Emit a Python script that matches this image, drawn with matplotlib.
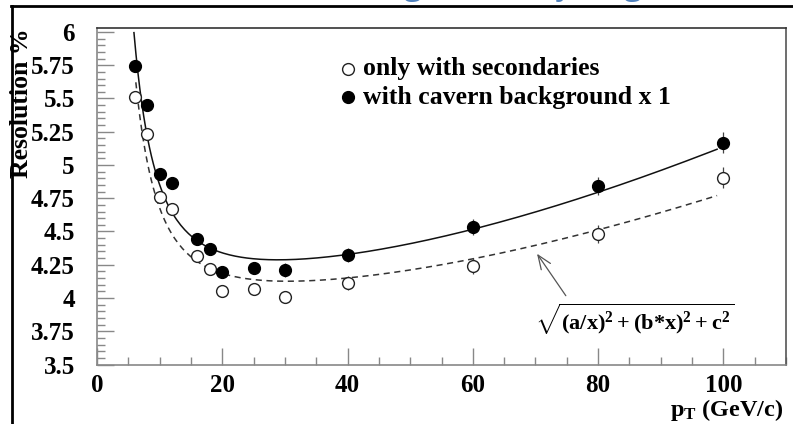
import numpy as np
import matplotlib
matplotlib.use("Agg")
import matplotlib.pyplot as plt
from matplotlib.lines import Line2D
from matplotlib.ticker import MultipleLocator, FormatStrFormatter

plt.rcParams['font.family'] = ['Liberation Serif', 'DejaVu Serif']
plt.rcParams['font.weight'] = 'bold'
plt.rcParams['mathtext.fontset'] = 'custom'
plt.rcParams['mathtext.rm'] = 'Liberation Serif:bold'
plt.rcParams['mathtext.it'] = 'Liberation Serif:bold'
plt.rcParams['mathtext.bf'] = 'Liberation Serif:bold'

# punti misurati (pT in GeV/c, risoluzione in %)
pt = [6, 8, 10, 12, 16, 18, 20, 25, 30, 40, 60, 80, 100]
res_sec = [5.51, 5.233, 4.759, 4.669, 4.316, 4.218, 4.055, 4.068, 4.008, 4.113, 4.241, 4.481, 4.905]
err_sec = [0.02, 0.02, 0.02, 0.02, 0.02, 0.02, 0.03, 0.03, 0.04, 0.05, 0.06, 0.07, 0.08]
res_cav = [5.747, 5.449, 4.93, 4.862, 4.444, 4.368, 4.198, 4.228, 4.211, 4.323, 4.536, 4.842, 5.168]
err_cav = [0.02, 0.02, 0.02, 0.02, 0.02, 0.02, 0.03, 0.04, 0.05, 0.05, 0.06, 0.07, 0.08]

# parametri del fit sqrt((a/x)^2 + (b*x)^2 + c^2)
fit_sec = (24.70, 0.02670, 3.963)
fit_cav = (25.80, 0.03088, 4.097)
range_sec = (6.2, 99)
range_cav = (5.9, 99)

labels = ["only with secondaries", "with cavern background x 1"]


def fit_curve(p, lo, hi):
    a, b, c = p
    x = np.linspace(lo, hi, 300)
    return x, np.sqrt((a / x) ** 2 + (b * x) ** 2 + c ** 2)


fig = plt.figure(figsize=(7.93, 4.24), dpi=100)
ax = fig.add_axes([97 / 793, 59.5 / 424, 689 / 793, 336.5 / 424])

xs, ys = fit_curve(fit_sec, *range_sec)
ax.plot(xs, ys, color='#333333', lw=1.1, ls=(0, (4, 3)))
xc, yc = fit_curve(fit_cav, *range_cav)
ax.plot(xc, yc, color='#111111', lw=1.1)

ax.errorbar(pt, res_sec, yerr=err_sec, fmt='o', ms=8.5, mfc='white', mec='#222222',
            mew=1.0, ecolor='#444444', elinewidth=0.9, capsize=0, zorder=3)
ax.errorbar(pt, res_cav, yerr=err_cav, fmt='o', ms=8.5, mfc='black', mec='black',
            ecolor='#444444', elinewidth=0.9, capsize=0, zorder=3)

# legenda fatta a mano
ax.plot([40], [5.722], 'o', ms=8.5, mfc='white', mec='#222222', mew=1.0, clip_on=False)
ax.plot([40], [5.511], 'o', ms=8.5, mfc='black', mec='black', clip_on=False)
ax.text(42.5, 5.722, labels[0], fontsize=18.5, va='center', ha='left')
ax.text(42.5, 5.511, labels[1], fontsize=18.5, va='center', ha='left')

ax.annotate('', xy=(70, 4.35), xytext=(75.1, 4.0),
            arrowprops=dict(arrowstyle='->,head_length=1.0,head_width=0.4', color='#555555', lw=0.9))
ax.text(70.0, 3.84, r'$\sqrt{\mathrm{(a/x)^2 + (b{*}x)^2 + c^2}}$', fontsize=16, ha='left', va='center')

ax.set_xlim(0, 110)
ax.set_ylim(3.5, 6.03)
ax.xaxis.set_major_locator(MultipleLocator(20))
ax.xaxis.set_minor_locator(MultipleLocator(5))
ax.yaxis.set_major_locator(MultipleLocator(0.25))
ax.yaxis.set_minor_locator(MultipleLocator(0.05))
ax.yaxis.set_major_formatter(FormatStrFormatter('%g'))
ax.tick_params(which='both', direction='in', color='#888888', labelsize=18)
ax.tick_params(which='major', length=12, width=1.0)
ax.tick_params(which='minor', length=6, width=1.0)
ax.tick_params(axis='y', pad=16)
ax.tick_params(axis='x', pad=7)
for lab in ax.get_xticklabels() + ax.get_yticklabels():
    lab.set_fontweight('bold')

ax.spines['left'].set_color('#888888')
ax.spines['bottom'].set_color('#888888')
ax.spines['top'].set_color('#333333')
ax.spines['right'].set_color('#555555')
for s in ax.spines.values():
    s.set_linewidth(1.2)

fig.text(783 / 793, 1 - 410 / 424, r'$\mathrm{p_T}$ (GeV/c)', fontsize=17.5, ha='right', va='center')
fig.text(22 / 793, 1 - 103 / 424, 'Resolution %', fontsize=18.5, rotation=90, ha='center', va='center')

# titolo della slide tagliato in alto
for gx, ch in [(413, 'g'), (563, 'y'), (633, 'g')]:
    fig.text(gx / 793, 1 + 6.5 / 424, ch, fontsize=24, color='#4f81bd', family='Open Sans',
             ha='center', va='baseline', fontweight='normal')

# cornice dello screenshot
fig.add_artist(Line2D([11 / 793, 1], [1 - 6 / 424, 1 - 6 / 424], color='black', lw=2))
fig.add_artist(Line2D([12 / 793, 12 / 793], [0, 1 - 6 / 424], color='black', lw=2))

fig.savefig('out.png', dpi=100)
